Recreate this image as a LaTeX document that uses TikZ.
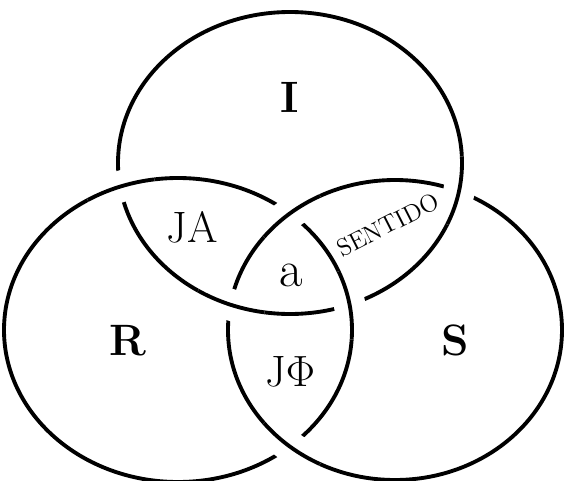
\documentclass[tikz,border=0pt]{standalone}
\usetikzlibrary{intersections}
\tikzset{
  ring/.style={line width=2.2pt},
  overpass/.style={preaction={draw=white,line width=18pt}},
  reg/.style={font=\fontsize{25}{30}\selectfont\bfseries},
  lbl/.style={font=\fontsize{25}{30}\selectfont},
}
\begin{document}
\begin{tikzpicture}
  \useasboundingbox (0,0) rectangle (11.28,9.6);
  \path
  (5.8,6.34) coordinate (cI)
  (3.56,3.0) coordinate (cR)
  (7.9,3.0) coordinate (cS);
  \draw[ring,name path=I] (cI) ellipse [x radius=3.44, y radius=3.02];
  \draw[ring,name path=R] (cR) ellipse [x radius=3.48, y radius=3.04];
  \draw[ring,name path=S] (cS) ellipse [x radius=3.34, y radius=3.0];
  \path[name intersections={of=I and R,name=IR}];
  \path[name intersections={of=I and S,name=IS}];
  \path[name intersections={of=R and S,name=RS}];
  % R over I, I over S, S over R
  \foreach \x/\c/\a/\b in {IR-1/cR/3.48/3.04, IR-2/cR/3.48/3.04,
                           IS-1/cI/3.44/3.02, IS-2/cI/3.44/3.02,
                           RS-1/cS/3.34/3.0, RS-2/cS/3.34/3.0}
  {
    \begin{scope}
      \clip (\x) circle (0.7);
      \draw[ring,overpass] (\c) ellipse [x radius=\a, y radius=\b];
    \end{scope}
  }
  \node[reg] (I) at (5.8,7.66) {I};
  \node[reg] (R) at (2.56,2.78) {R};
  \node[reg] (S) at (9.1,2.8) {S};
  \node[lbl] (JA) at (3.84,5.06) {JA};
  \node[font=\fontsize{29}{34}\selectfont] (a) at (5.82,4.1) {a};
  \node[lbl] (JPhi) at (5.8,2.16) {J$\Phi$};
  \node[font=\fontsize{14}{16}\selectfont,rotate=27] (sentido) at (7.76,5.1) {SENTIDO};
\end{tikzpicture}
\end{document}
